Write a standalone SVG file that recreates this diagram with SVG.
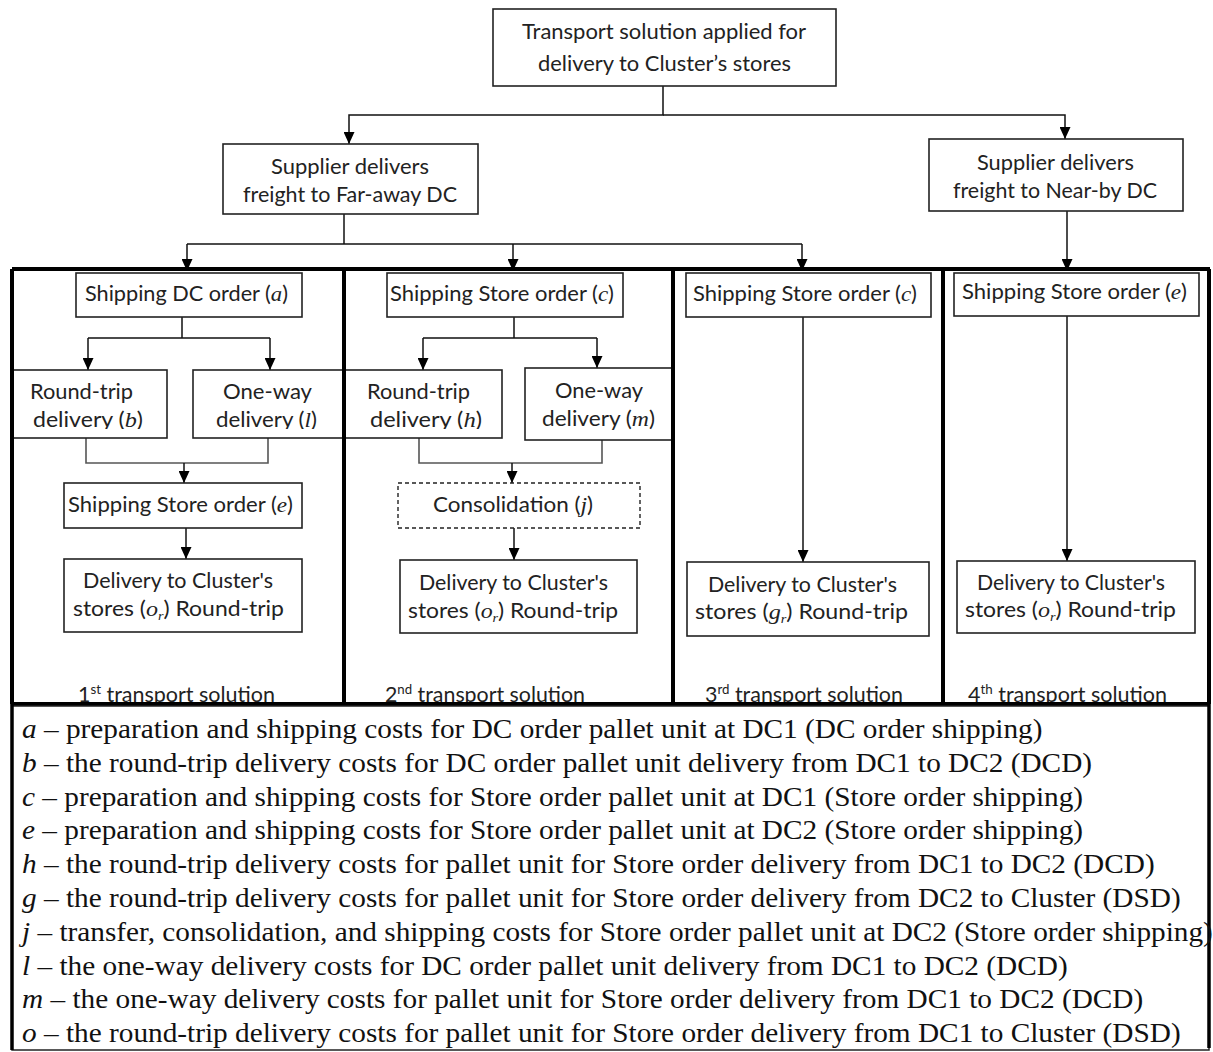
<svg xmlns="http://www.w3.org/2000/svg" width="1213" height="1052" viewBox="0 0 1213 1052">
<style>
.box{fill:#fff;stroke:#222;stroke-width:1.6}
.dash{fill:#fff;stroke:#222;stroke-width:1.4;stroke-dasharray:4 3}
.t{font-family:Lato,"Open Sans","DejaVu Sans",sans-serif;font-size:21px;fill:#222}
.v{font-family:"Liberation Serif","DejaVu Serif",serif;font-style:italic;font-size:22px}
.sb{font-size:13px}
.sp{font-size:13px}
.ln{fill:none;stroke:#111;stroke-width:1.5}
.lg{fill:none;stroke:#555;stroke-width:1.6}
.fr{fill:none;stroke:#000;stroke-width:4}
.leg{font-family:"Liberation Serif","Times New Roman",serif;font-size:28px;fill:#111}
.li{font-style:italic}
</style>
<defs>
<marker id="ah" markerUnits="userSpaceOnUse" viewBox="0 0 12 11" refX="12" refY="5.5" markerWidth="12" markerHeight="11" orient="auto">
<path d="M0,0 L12,5.5 L0,11 z" fill="#000"/>
</marker>
<clipPath id="c1"><rect x="13" y="370" width="154" height="59"/></clipPath>
<clipPath id="c2"><rect x="193" y="370" width="152" height="59"/></clipPath>
<clipPath id="c3"><rect x="345" y="370" width="157" height="59"/></clipPath>
<clipPath id="cb"><rect x="0" y="260" width="1213" height="442"/></clipPath>
</defs>

<g id="connectors">
<path class="ln" d="M663,86 V115 H349 V144" marker-end="url(#ah)"/>
<path class="ln" d="M663,115 H1065 V139" marker-end="url(#ah)"/>
<path class="ln" d="M344,214 V244"/>
<path class="ln" d="M187,244 H802"/>
<path class="ln" d="M187,244 V271" marker-end="url(#ah)"/>
<path class="ln" d="M513,244 V271" marker-end="url(#ah)"/>
<path class="ln" d="M802,244 V271" marker-end="url(#ah)"/>
<path class="ln" d="M1067,211 V271" marker-end="url(#ah)"/>
<path class="ln" d="M182,317 V338 M88,338 H270"/>
<path class="ln" d="M88,338 V370" marker-end="url(#ah)"/>
<path class="ln" d="M270,338 V370" marker-end="url(#ah)"/>
<path class="lg" d="M86,438 V463 H268 V438"/>
<path class="ln" d="M184,463 V483" marker-end="url(#ah)"/>
<path class="ln" d="M186,528 V559" marker-end="url(#ah)"/>
<path class="ln" d="M514,317 V338 M423,338 H597"/>
<path class="ln" d="M423,338 V370" marker-end="url(#ah)"/>
<path class="ln" d="M597,338 V368" marker-end="url(#ah)"/>
<path class="lg" d="M419,438 V463 H602 V440"/>
<path class="ln" d="M512,463 V483" marker-end="url(#ah)"/>
<path class="ln" d="M514,528 V560" marker-end="url(#ah)"/>
<path class="ln" d="M803,317 V562" marker-end="url(#ah)"/>
<path class="ln" d="M1067,316 V561" marker-end="url(#ah)"/>
</g>

<g id="n-top">
<rect class="box" x="493" y="9" width="343" height="77"/>
<text class="t" x="522" y="39" textLength="284" lengthAdjust="spacingAndGlyphs">Transport solution applied for</text>
<text class="t" x="538" y="71" textLength="253" lengthAdjust="spacingAndGlyphs">delivery to Cluster’s stores</text>
</g>
<g id="n-faraway">
<rect class="box" x="223" y="144" width="255" height="70"/>
<text class="t" x="271" y="174" textLength="158" lengthAdjust="spacingAndGlyphs">Supplier delivers</text>
<text class="t" x="243" y="202" textLength="214" lengthAdjust="spacingAndGlyphs">freight to Far-away DC</text>
</g>
<g id="n-nearby">
<rect class="box" x="929" y="139" width="254" height="72"/>
<text class="t" x="977" y="170" textLength="157" lengthAdjust="spacingAndGlyphs">Supplier delivers</text>
<text class="t" x="953" y="198" textLength="204" lengthAdjust="spacingAndGlyphs">freight to Near-by DC</text>
</g>

<g id="n-p1-a">
<rect class="box" x="76" y="273" width="226" height="44"/>
<text class="t" x="85" y="301" textLength="203" lengthAdjust="spacingAndGlyphs">Shipping DC order (<tspan class="v">a</tspan>)</text>
</g>
<g id="n-p1-b">
<rect class="box" x="13" y="370" width="154" height="68"/>
<text class="t" x="30" y="399" textLength="103" lengthAdjust="spacingAndGlyphs">Round-trip</text>
<text class="t" x="33" y="427" textLength="110" lengthAdjust="spacingAndGlyphs" clip-path="url(#c1)">delivery (<tspan class="v">b</tspan>)</text>
</g>
<g id="n-p1-l">
<rect class="box" x="193" y="370" width="152" height="68"/>
<text class="t" x="223" y="399" textLength="89" lengthAdjust="spacingAndGlyphs">One-way</text>
<text class="t" x="216" y="427" textLength="101" lengthAdjust="spacingAndGlyphs" clip-path="url(#c2)">delivery (<tspan class="v">l</tspan>)</text>
</g>
<g id="n-p1-e">
<rect class="box" x="64" y="483" width="238" height="45"/>
<text class="t" x="68" y="512" textLength="225" lengthAdjust="spacingAndGlyphs">Shipping Store order (<tspan class="v">e</tspan>)</text>
</g>
<g id="n-p1-del">
<rect class="box" x="64" y="559" width="238" height="73"/>
<text class="t" x="83" y="588" textLength="190" lengthAdjust="spacingAndGlyphs">Delivery to Cluster's</text>
<text class="t" x="73" y="616" textLength="211" lengthAdjust="spacingAndGlyphs">stores (<tspan class="v">o</tspan><tspan class="v sb" baseline-shift="-4">r</tspan>) Round-trip</text>
</g>

<g id="n-p2-c">
<rect class="box" x="387" y="273" width="236" height="44"/>
<text class="t" x="390" y="301" textLength="224" lengthAdjust="spacingAndGlyphs">Shipping Store order (<tspan class="v">c</tspan>)</text>
</g>
<g id="n-p2-h">
<rect class="box" x="345" y="370" width="157" height="68"/>
<text class="t" x="367" y="399" textLength="103" lengthAdjust="spacingAndGlyphs">Round-trip</text>
<text class="t" x="370" y="427" textLength="112" lengthAdjust="spacingAndGlyphs" clip-path="url(#c3)">delivery (<tspan class="v">h</tspan>)</text>
</g>
<g id="n-p2-m">
<rect class="box" x="525" y="368" width="147" height="72"/>
<text class="t" x="555" y="398" textLength="88" lengthAdjust="spacingAndGlyphs">One-way</text>
<text class="t" x="542" y="426" textLength="113" lengthAdjust="spacingAndGlyphs">delivery (<tspan class="v">m</tspan>)</text>
</g>
<g id="n-p2-j">
<rect class="dash" x="398" y="483" width="242" height="45"/>
<text class="t" x="433" y="512" textLength="160" lengthAdjust="spacingAndGlyphs">Consolidation (<tspan class="v">j</tspan>)</text>
</g>
<g id="n-p2-del">
<rect class="box" x="400" y="560" width="237" height="73"/>
<text class="t" x="419" y="590" textLength="189" lengthAdjust="spacingAndGlyphs">Delivery to Cluster's</text>
<text class="t" x="408" y="618" textLength="210" lengthAdjust="spacingAndGlyphs">stores (<tspan class="v">o</tspan><tspan class="v sb" baseline-shift="-4">r</tspan>) Round-trip</text>
</g>

<g id="n-p3-c">
<rect class="box" x="686" y="273" width="245" height="44"/>
<text class="t" x="693" y="301" textLength="224" lengthAdjust="spacingAndGlyphs">Shipping Store order (<tspan class="v">c</tspan>)</text>
</g>
<g id="n-p3-del">
<rect class="box" x="687" y="562" width="242" height="74"/>
<text class="t" x="708" y="592" textLength="189" lengthAdjust="spacingAndGlyphs">Delivery to Cluster's</text>
<text class="t" x="695" y="619" textLength="213" lengthAdjust="spacingAndGlyphs">stores (<tspan class="v">g</tspan><tspan class="v sb" baseline-shift="-4">r</tspan>) Round-trip</text>
</g>

<g id="n-p4-e">
<rect class="box" x="954" y="273" width="245" height="43"/>
<text class="t" x="962" y="299" textLength="225" lengthAdjust="spacingAndGlyphs">Shipping Store order (<tspan class="v">e</tspan>)</text>
</g>
<g id="n-p4-del">
<rect class="box" x="957" y="561" width="238" height="72"/>
<text class="t" x="977" y="590" textLength="188" lengthAdjust="spacingAndGlyphs">Delivery to Cluster's</text>
<text class="t" x="965" y="617" textLength="211" lengthAdjust="spacingAndGlyphs">stores (<tspan class="v">o</tspan><tspan class="v sb" baseline-shift="-4">r</tspan>) Round-trip</text>
</g>

<g id="solution-labels" clip-path="url(#cb)">
<text class="t" x="78" y="702" textLength="197" lengthAdjust="spacingAndGlyphs">1<tspan class="sp" baseline-shift="8">st</tspan> transport solution</text>
<text class="t" x="385" y="702" textLength="200" lengthAdjust="spacingAndGlyphs">2<tspan class="sp" baseline-shift="8">nd</tspan> transport solution</text>
<text class="t" x="705" y="702" textLength="198" lengthAdjust="spacingAndGlyphs">3<tspan class="sp" baseline-shift="8">rd</tspan> transport solution</text>
<text class="t" x="968" y="702" textLength="199" lengthAdjust="spacingAndGlyphs">4<tspan class="sp" baseline-shift="8">th</tspan> transport solution</text>
</g>

<g id="frame">
<path class="fr" d="M12,269 H1210 M12,704 H1210 M12,269 V704 M344,269 V704 M673,269 V704 M943,269 V704 M1209,269 V704"/>
</g>

<g id="legend">
<rect x="12" y="706" width="1197" height="344" fill="none" stroke="#222" stroke-width="1.5"/>
<path d="M12,704 V1050 M1209,704 V1048" fill="none" stroke="#000" stroke-width="3.5"/>
<g transform="translate(22,0) scale(1.046,1)" class="leg">
<text x="0" y="738"><tspan class="li">a</tspan> – preparation and shipping costs for DC order pallet unit at DC1 (DC order shipping)</text>
<text x="0" y="772"><tspan class="li">b</tspan> – the round-trip delivery costs for DC order pallet unit delivery from DC1 to DC2 (DCD)</text>
<text x="0" y="806"><tspan class="li">c</tspan> – preparation and shipping costs for Store order pallet unit at DC1 (Store order shipping)</text>
<text x="0" y="839"><tspan class="li">e</tspan> – preparation and shipping costs for Store order pallet unit at DC2 (Store order shipping)</text>
<text x="0" y="873"><tspan class="li">h</tspan> – the round-trip delivery costs for pallet unit for Store order delivery from DC1 to DC2 (DCD)</text>
<text x="0" y="907"><tspan class="li">g</tspan> – the round-trip delivery costs for pallet unit for Store order delivery from DC2 to Cluster (DSD)</text>
<text x="0" y="941"><tspan class="li">j</tspan> – transfer, consolidation, and shipping costs for Store order pallet unit at DC2 (Store order shipping)</text>
<text x="0" y="975"><tspan class="li">l</tspan> – the one-way delivery costs for DC order pallet unit delivery from DC1 to DC2 (DCD)</text>
<text x="0" y="1008"><tspan class="li">m</tspan> – the one-way delivery costs for pallet unit for Store order delivery from DC1 to DC2 (DCD)</text>
<text x="0" y="1042"><tspan class="li">o</tspan> – the round-trip delivery costs for pallet unit for Store order delivery from DC1 to Cluster (DSD)</text>
</g>
</g>
</svg>
